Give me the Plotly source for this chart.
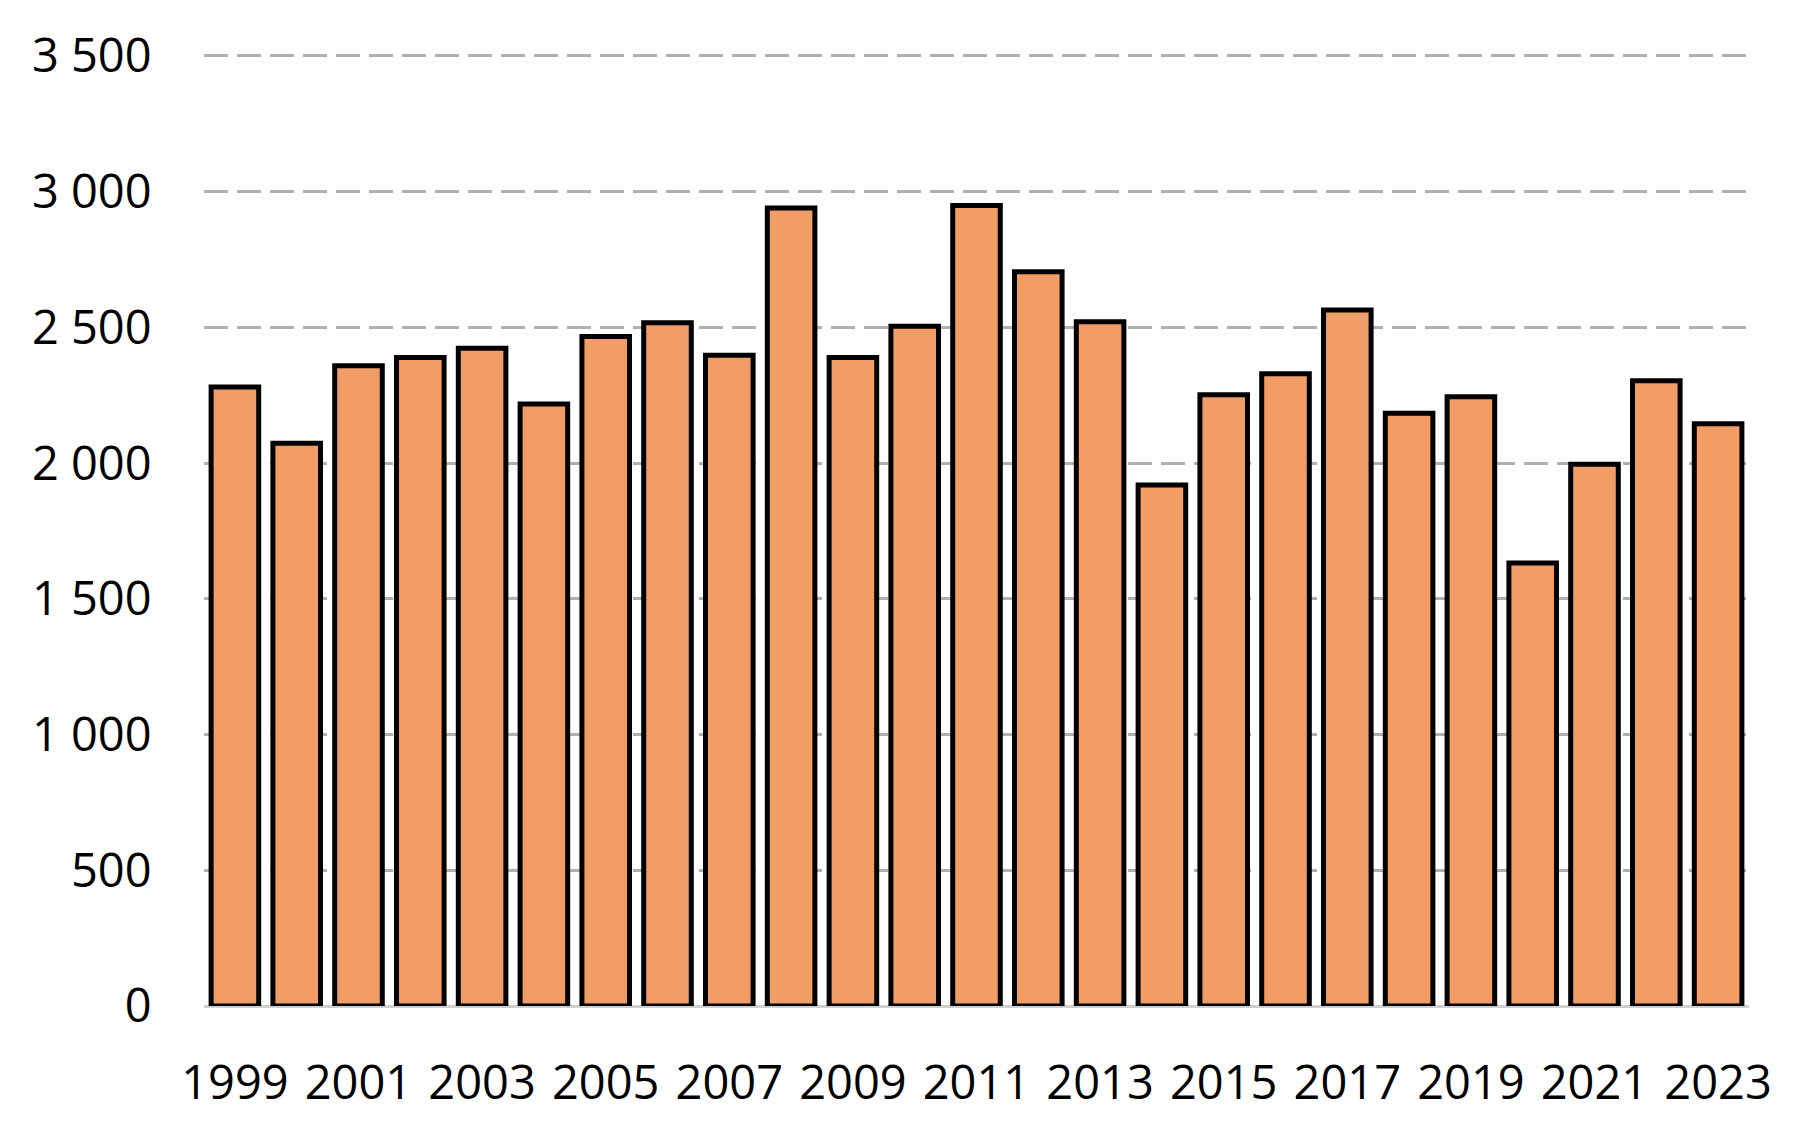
import plotly.graph_objects as go

years = list(range(1999, 2024))
values = [2280, 2073, 2359, 2389, 2423, 2218, 2466, 2517, 2397, 2940,
          2389, 2504, 2949, 2705, 2521, 1919, 2252, 2329, 2564, 2184,
          2244, 1632, 1996, 2303, 2145]
x_tick_years = list(range(1999, 2024, 2))
y_ticks = [0, 500, 1000, 1500, 2000, 2500, 3000, 3500]

fig = go.Figure()
fig.add_trace(go.Bar(
    x=years, y=values, width=0.77,
    marker=dict(color="#F19D65", line=dict(color="#000000", width=5)),
))

font = dict(family="Open Sans, Segoe UI, sans-serif", size=47, color="#000000")
fig.update_layout(
    width=1803, height=1124,
    margin=dict(l=196, r=62, t=46, b=126),
    paper_bgcolor="white", plot_bgcolor="white",
    separators=", ",
    showlegend=False,
    font=font,
    xaxis=dict(
        range=[1998.5, 2023.5],
        tickvals=x_tick_years,
        ticktext=[str(y) for y in x_tick_years],
        showgrid=False, zeroline=False, showline=False,
        ticks="outside", ticklen=36, tickcolor="rgba(0,0,0,0)",
        tickfont=font,
    ),
    yaxis=dict(
        range=[0, 3507],
        tickvals=y_ticks,
        tickformat=",d",
        showgrid=True, gridcolor="#B0B0B0", gridwidth=3,
        griddash="24px,9px",
        zeroline=True, zerolinecolor="#D0D0D0", zerolinewidth=3,
        showline=False,
        ticks="outside", ticklen=42, tickcolor="rgba(0,0,0,0)",
        tickfont=font,
    ),
)

fig.write_html("out.html")
